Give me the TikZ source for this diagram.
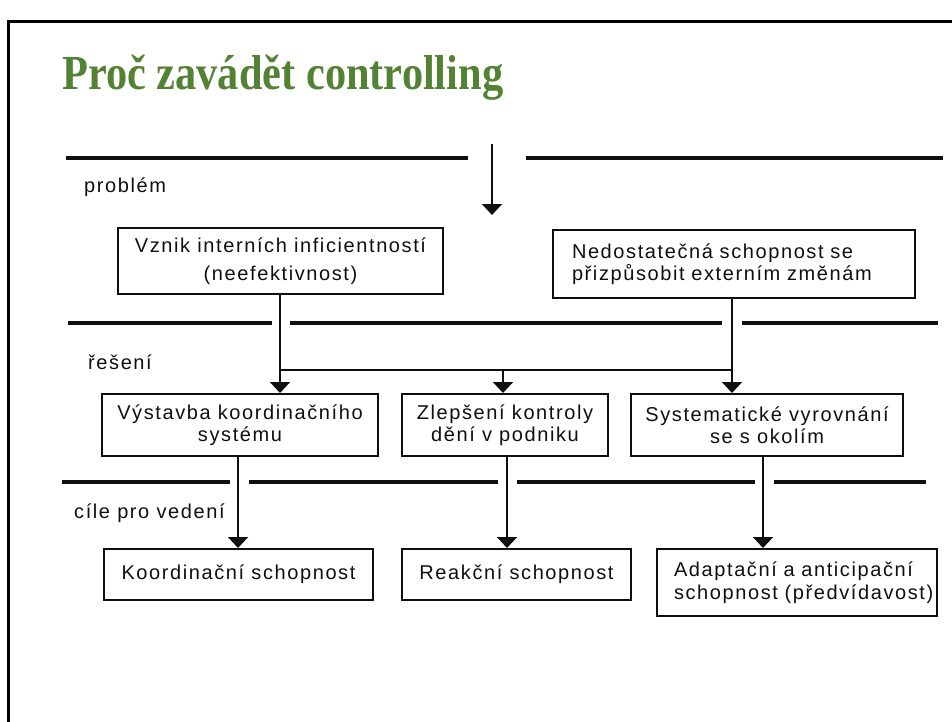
\documentclass[tikz,border=0pt]{standalone}
\usepackage{fontspec}
\setmainfont{Liberation Sans}[LetterSpace=8]
\newfontfamily\titlefont{Liberation Serif}
\usetikzlibrary{arrows.meta}
\definecolor{titlegreen}{RGB}{84,130,53}
\definecolor{ink}{RGB}{15,15,15}
\begin{document}
\begin{tikzpicture}[x=1pt,y=-1pt,
  txt/.style={font=\fontsize{20}{22.5}\selectfont, text=ink},
  box/.style={txt, draw=ink, line width=2pt, inner sep=0pt, align=center},
  lbox/.style={box, align=left},
  sep/.style={line width=3.2pt, ink},
  link/.style={line width=2pt, ink},
  arr/.style={link, -{Triangle[width=20pt,length=11pt]}},
  lvl/.style={txt, anchor=base west, inner sep=0pt}]
\useasboundingbox (0,0) rectangle (952,722);
% slide frame
\draw[line width=3pt, black] (8,722) -- (8,22) -- (952,22);
% title
\node[anchor=base west, inner sep=0pt, text=titlegreen] (title) at (62,90)
  {\scalebox{0.865}[1]{\titlefont\bfseries\fontsize{49}{55}\selectfont Proč zavádět controlling}};
% level separators
\draw[sep] (66,158) -- (468,158);
\draw[sep] (526,158) -- (943,158);
\draw[sep] (68,323) -- (272,323);
\draw[sep] (290,323) -- (722,323);
\draw[sep] (742,323) -- (938,323);
\draw[sep] (62,482) -- (230,482);
\draw[sep] (249,482) -- (498,482);
\draw[sep] (517,482) -- (755,482);
\draw[sep] (774,482) -- (926,482);
% level labels
\node[lvl] (lproblem) at (84,193) {problém};
\node[lvl] (lreseni) at (88,369) {řešení};
\node[lvl] (lcile) at (74,518) {cíle pro vedení};
% problems
\node[box, minimum width=325pt, minimum height=66pt] (p1) at (280.5,261)
  {Vznik interních inficientností\\[5pt](neefektivnost)};
\node[lbox, inner xsep=19pt, text width=324pt, minimum height=68pt] (p2) at (734,264)
  {\mbox{Nedostatečná schopnost se}\\\mbox{přizpůsobit externím změnám}};
% solutions
\node[box, minimum width=276pt, minimum height=62pt] (s1) at (240,425)
  {Výstavba koordinačního\\systému};
\node[box, minimum width=206pt, minimum height=62pt] (s2) at (505,425)
  {Zlepšení kontroly\\dění v podniku};
\node[box, minimum width=272pt, minimum height=62pt] (s3) at (767,425)
  {Systematické vyrovnání\\se s okolím};
% goals
\node[box, minimum width=269pt, minimum height=51pt] (g1) at (238.5,574.5)
  {Koordinační schopnost};
\node[box, minimum width=229pt, minimum height=51pt] (g2) at (516.5,574.5)
  {Reakční schopnost};
\node[lbox, inner xsep=17pt, text width=246pt, minimum height=67pt] (g3) at (797,582.5)
  {\mbox{Adaptační a anticipační}\\\mbox{schopnost (předvídavost)}};
% connectors
\coordinate (flowtop) at (492,144);
\coordinate (flowtip) at (492,215);
\draw[arr] (flowtop) -- (flowtip);
\coordinate (j1) at (280,370);
\coordinate (j2) at (503,370);
\coordinate (j3) at (732,370);
\draw[arr] (p1.south -| j1) -- (s1.north -| j1);
\draw[arr] (p2.south -| j3) -- (s3.north -| j3);
\draw[link] (j1) -- (j3);
\draw[arr] (j2) -- (s2.north -| j2);
\coordinate (k1) at (238,482);
\draw[arr] (s1.south -| k1) -- (g1.north -| k1);
\coordinate (k2) at (507,482);
\draw[arr] (s2.south -| k2) -- (g2.north -| k2);
\coordinate (k3) at (763,482);
\draw[arr] (s3.south -| k3) -- (g3.north -| k3);
\end{tikzpicture}
\end{document}
